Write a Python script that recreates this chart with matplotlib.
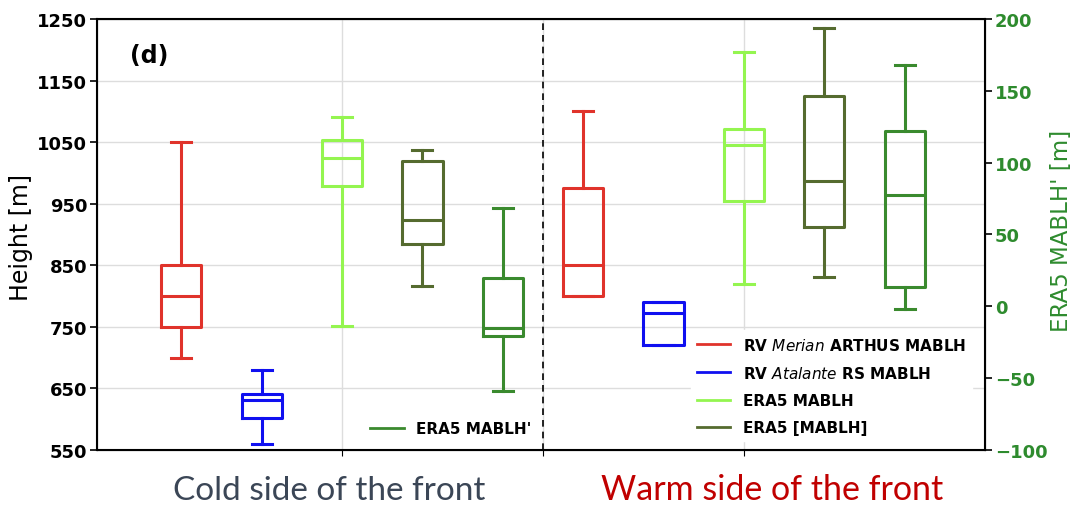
import numpy as np
import matplotlib
matplotlib.use("Agg")
import matplotlib.pyplot as plt
from matplotlib.lines import Line2D

# box statistics: low whisker, q1, median, q3, high whisker
names = ["RV Merian ARTHUS", "RV Atalante RS", "ERA5 MABLH", "ERA5 [MABLH]"]
cold_lo = [700, 560, 751, 817]
cold_q1 = [750, 602, 978, 885]
cold_med = [800, 632, 1025, 923]
cold_q3 = [850, 641, 1054, 1019]
cold_hi = [1050, 680, 1091, 1037]

warm_lo = [800, 720, 819, 831]
warm_q1 = [800, 720, 954, 912]
warm_med = [850, 772, 1046, 987]
warm_q3 = [975, 791, 1071, 1125]
warm_hi = [1100, 791, 1196, 1235]

# ERA5 MABLH' (right axis), cold then warm
prime_lo = [-58.6, -1.6]
prime_q1 = [-21, 13.3]
prime_med = [-14.8, 77.5]
prime_q3 = [20, 122.3]
prime_hi = [68.7, 168]

colors = ["#e0332b", "#1010f0", "#94f550", "#556b2f"]
prime_color = "#3a8a2e"
axis_green = "#2e8b2e"


def stats(lo, q1, med, q3, hi):
    return [dict(whislo=a, q1=b, med=c, q3=d, whishi=e, fliers=[])
            for a, b, c, d, e in zip(lo, q1, med, q3, hi)]


fig = plt.figure(figsize=(10.76, 5.06), dpi=100)
ax = fig.add_axes([0.0901, 0.1087, 0.8253, 0.8518])
ax2 = ax.twinx()

cold = stats(cold_lo, cold_q1, cold_med, cold_q3, cold_hi)
warm = stats(warm_lo, warm_q1, warm_med, warm_q3, warm_hi)
prime = stats(prime_lo, prime_q1, prime_med, prime_q3, prime_hi)

for i, c in enumerate(colors):
    props = dict(color=c, linewidth=2.2)
    ax.bxp([cold[i], warm[i]], positions=[1 + i, 6 + i], widths=0.5,
           showfliers=False, boxprops=props, whiskerprops=props,
           capprops=props, medianprops=props, manage_ticks=False)

props = dict(color=prime_color, linewidth=2.2)
ax2.bxp(prime, positions=[5, 10], widths=0.5, showfliers=False,
        boxprops=props, whiskerprops=props, capprops=props,
        medianprops=props, manage_ticks=False)

ax.set_xlim(-0.05, 11.0)
ax.set_ylim(550, 1250)
ax2.set_ylim(-100, 200)
ax.set_yticks(np.arange(550, 1251, 100))
ax2.set_yticks(np.arange(-100, 201, 50))
ax.set_xticks([3, 5.5, 8])
ax.set_xticklabels([])
ax.grid(True, color="#dddddd", linewidth=1)
ax.set_axisbelow(True)
ax.axvline(5.5, color="black", linestyle=(0, (4, 3)), linewidth=1.2)

for lab in ax.get_yticklabels():
    lab.set_fontweight("bold")
    lab.set_fontsize(13)
for lab in ax2.get_yticklabels():
    lab.set_fontweight("bold")
    lab.set_fontsize(13)
    lab.set_color(axis_green)
ax.tick_params(axis="y", length=5, width=1.2, pad=2)
ax2.tick_params(axis="y", length=5, width=1.2, pad=2)
ax.tick_params(axis="x", length=4)

ax.set_ylabel("Height [m]", fontsize=17)
ax.yaxis.set_label_coords(-0.072, 0.495)
ax2.set_ylabel("ERA5 MABLH' [m]", fontsize=16.5, color=axis_green)
ax2.yaxis.set_label_coords(1.073, 0.51)

for sp in ax2.spines.values():
    sp.set_linewidth(1.5)

ax.text(0.037, 0.9, "(d)", transform=ax.transAxes, fontsize=17,
        fontweight="bold")

h1 = [Line2D([], [], color=prime_color, linewidth=2)]
leg1 = ax2.legend(h1, ["ERA5 MABLH'"], loc="lower left",
                  bbox_to_anchor=(0.292, 0.0), frameon=False,
                  prop=dict(weight="bold", size=11), handlelength=2.2)

h2 = [Line2D([], [], color=c, linewidth=2) for c in colors]
labels2 = [r"RV $\it{Merian}$ ARTHUS MABLH", r"RV $\it{Atalante}$ RS MABLH",
           "ERA5 MABLH", "ERA5 [MABLH]"]
leg2 = ax2.legend(h2, labels2, loc="upper left", bbox_to_anchor=(0.66, 0.295),
                  frameon=True, framealpha=1, edgecolor="white",
                  prop=dict(weight="bold", size=11), handlelength=2.2,
                  labelspacing=0.8)
ax2.add_artist(leg1)

fig.text(0.306, 0.012, "Cold side of the front", fontsize=24,
         family="Lato", color="#3b4656", ha="center")
fig.text(0.718, 0.012, "Warm side of the front", fontsize=24.5,
         family="Lato", color="#c00000", ha="center")

fig.savefig("out.png", dpi=100)
